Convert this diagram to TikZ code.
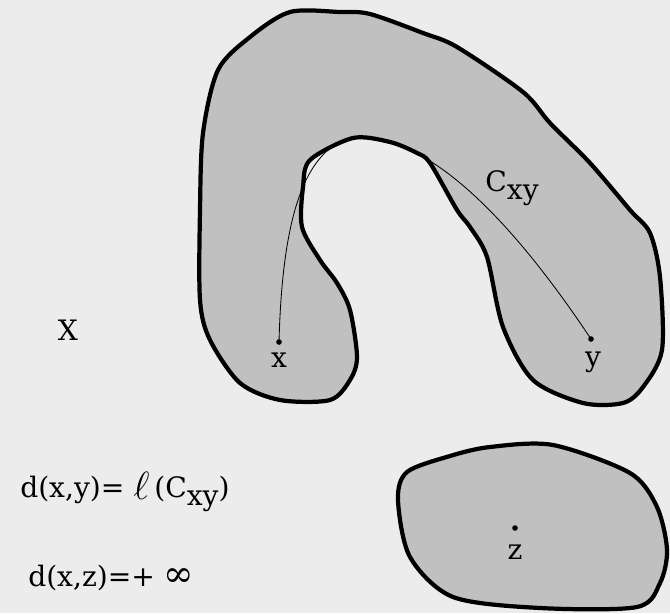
\documentclass[tikz,border=0pt]{standalone}
\usepackage{fontspec}
\setmainfont{DejaVu Serif}
\usepackage{tikz}
\usetikzlibrary{positioning,calc}
\definecolor{bgpaper}{RGB}{236,236,236}
\definecolor{blobgray}{RGB}{192,192,192}

\begin{document}
\begin{tikzpicture}[x=0.025cm,y=-0.025cm,
    blob/.style={draw=black,fill=blobgray,line width=3pt,line join=round},
    pathline/.style={draw=black,line width=0.6pt},
    lbl/.style={inner sep=0pt,font=\fontsize{20}{24}\selectfont},
    dotpt/.style={circle,fill=black,inner sep=0pt,minimum size=4pt}]
    \fill[bgpaper] (0,0) rectangle (670,613);
    \useasboundingbox (0,0) rectangle (670,613);
    % the connected piece
    \path[blob] plot[smooth cycle,tension=0.5] coordinates {
        (210,340) (200,300) (200,210) (203,133) (218,70) (250,37) (290,12)
        (340,12) (370,14) (423,33) (457,47) (523,92) (550,123) (590,163)
        (630,210) (650,233) (660,277) (662,350) (643,387) (623,403) (583,403)
        (533,380) (503,327) (487,257) (470,227) (457,210) (430,163) (417,153)
        (390,142) (353,138) (310,160) (303,187) (302,227) (320,260) (337,283)
        (350,310) (357,357) (350,380) (330,400) (280,400) (240,383)};
    % the other piece
    \path[blob] plot[smooth cycle,tension=0.5] coordinates {
        (407,472) (450,456) (490,447) (553,445) (630,473) (657,507) (667,550)
        (660,583) (637,607) (540,608) (453,597) (410,557) (398,500)};
    \node[dotpt] (px) at (279,342) {};
    \node[dotpt] (py) at (591,339) {};
    \node[dotpt] (pz) at (515,528) {};
    \coordinate (top) at (353,137);
    \draw[pathline] (px.center) .. controls (282,230) and (300,150) .. (top)
        .. controls (430,133) and (515,225) .. (py.center);
    \node[lbl] (xlbl) at (279,360) {x};
    \node[lbl] (ylbl) at (593,362) {y};
    \node[lbl] (zlbl) at (515,552) {z};
    \node[lbl] (clbl) at (512,188) {C\raisebox{-0.55ex}{xy}};
    \node[lbl] (space) at (68,330) {X};
    \node[lbl,anchor=west] (dxy) at (20,492)
        {d(x,y)= \raisebox{-0.1ex}{\scalebox{1.35}{$\ell$}}\,(C\raisebox{-0.55ex}{xy})};
    \node[lbl,anchor=west] (dxz) at (28,578) {d(x,z)=+ \scalebox{1.3}{∞}};
\end{tikzpicture}
\end{document}
